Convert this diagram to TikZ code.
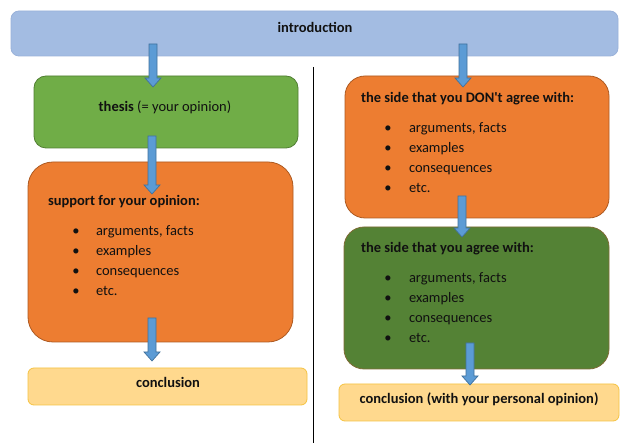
\documentclass[tikz,border=0pt]{standalone}
\usepackage{fontspec}
\setmainfont{Carlito}
\usetikzlibrary{calc}
\definecolor{introC}{HTML}{A3BCE2}
\definecolor{introD}{HTML}{9AB2DA}
\definecolor{greenC}{HTML}{70AD47}
\definecolor{greenD}{HTML}{507E32}
\definecolor{orangeC}{HTML}{ED7D31}
\definecolor{orangeD}{HTML}{AE5A21}
\definecolor{dgreenC}{HTML}{548235}
\definecolor{dgreenD}{HTML}{7F6B35}
\definecolor{conclC}{HTML}{FFD98E}
\definecolor{conclD}{HTML}{F5C342}
\definecolor{arrC}{HTML}{5B9BD5}
\definecolor{arrD}{HTML}{41719C}
\definecolor{txtC}{HTML}{111111}
\tikzset{
  box/.style={anchor=north west, inner sep=0pt, outer sep=0pt, line width=0.8pt},
  txt/.style={inner sep=0pt, outer sep=0pt, text height=9.5pt, text depth=3pt,
    font=\fontsize{14.5}{17}\selectfont, text=txtC, yshift=-1.5pt},
  lt/.style={txt, anchor=west},
  ct/.style={txt, anchor=center},
  arr/.style={fill=arrC, draw=arrD, line width=0.7pt, line join=miter}
}
\newcommand\blockarrow[2]{%
  \path[arr] let \p1=(#1), \p2=(#2) in
    (\x1-4pt,\y1) -- (\x1-4pt,\y2+9pt) -- (\x1-8pt,\y2+9pt) -- (\x1,\y2)
    -- (\x1+8pt,\y2+9pt) -- (\x1+4pt,\y2+9pt) -- (\x1+4pt,\y1) -- cycle;}
\begin{document}
\begin{tikzpicture}[x=1pt,y=-1pt]
\useasboundingbox[fill=white] (0,0) rectangle (627,443);

% boxes
\node[box, fill=introC, draw=introD, rounded corners=8pt, minimum width=607pt, minimum height=45pt] (intro) at (11,11) {};
\node[box, fill=greenC, draw=greenD, rounded corners=12pt, minimum width=264pt, minimum height=72pt] (thesis) at (34,76) {};
\node[box, fill=orangeC, draw=orangeD, rounded corners=25pt, minimum width=265pt, minimum height=180pt] (support) at (28,162) {};
\node[box, fill=conclC, draw=conclD, rounded corners=6pt, minimum width=279pt, minimum height=37pt] (concl1) at (28,368) {};
\node[box, fill=orangeC, draw=orangeD, rounded corners=20pt, minimum width=264pt, minimum height=142pt] (dont) at (345,76) {};
\node[box, fill=dgreenC, draw=dgreenD, rounded corners=20pt, minimum width=265pt, minimum height=142pt] (agree) at (344,227) {};
\node[box, fill=conclC, draw=conclD, rounded corners=6pt, minimum width=280pt, minimum height=37pt] (concl2) at (339,384) {};

% divider
\coordinate (dtop) at (313,67);
\coordinate (dbot) at (313,443);
\draw[line width=0.8pt, black] (dtop) -- (dbot);

% texts
\node[ct] (tintro) at (315,28) {\textbf{introduction}};
\node[ct] (tthesis) at (165,107) {\textbf{thesis} (= your opinion)};
\node[lt] (tsupport) at (48,201) {\textbf{support for your opinion:}};
\node[ct] (tconcl1) at (168,383) {\textbf{conclusion}};
\node[lt] (tdont) at (361,98) {\textbf{the side that you DON\textquotesingle t agree with:}};
\node[lt] (tagree) at (361,248) {\textbf{the side that you agree with:}};
\node[ct] (tconcl2) at (479,399) {\textbf{conclusion (with your personal opinion)}};

\foreach \yy/\tt [count=\i] in {231/{arguments, facts},251/examples,271/consequences,291/etc.}{
  \node[ct] (bl\i) at (76,\yy) {•};
  \node[lt] (il\i) at (96,\yy) {\tt};
}
\foreach \yy/\tt [count=\i] in {128/{arguments, facts},148/examples,168/consequences,188/etc.}{
  \node[ct] (bd\i) at (388,\yy) {•};
  \node[lt] (id\i) at (409,\yy) {\tt};
}
\foreach \yy/\tt [count=\i] in {278/{arguments, facts},298/examples,318/consequences,338/etc.}{
  \node[ct] (ba\i) at (388,\yy) {•};
  \node[lt] (ia\i) at (409,\yy) {\tt};
}

% arrows
\coordinate (a1s) at (153,44);  \coordinate (a1e) at (153,87);
\coordinate (a2s) at (152,136); \coordinate (a2e) at (152,194);
\coordinate (a3s) at (152,318); \coordinate (a3e) at (152,361);
\coordinate (a4s) at (463,44);  \coordinate (a4e) at (463,87);
\coordinate (a5s) at (462,196); \coordinate (a5e) at (462,237);
\coordinate (a6s) at (470,343); \coordinate (a6e) at (470,385);
\blockarrow{a1s}{a1e}
\blockarrow{a2s}{a2e}
\blockarrow{a3s}{a3e}
\blockarrow{a4s}{a4e}
\blockarrow{a5s}{a5e}
\blockarrow{a6s}{a6e}
\end{tikzpicture}
\end{document}
